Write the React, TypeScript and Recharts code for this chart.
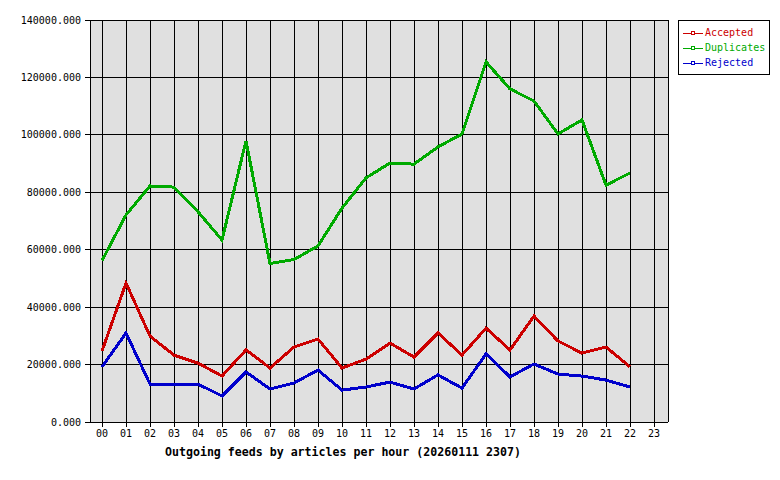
import React from 'react';
import { LineChart, Line, XAxis, YAxis, CartesianGrid } from 'recharts';

const hours = ['00','01','02','03','04','05','06','07','08','09','10','11','12','13','14','15','16','17','18','19','20','21','22','23'];
const accepted = [24700, 48400, 29900, 23300, 20500, 16000, 25100, 18800, 26100, 28900, 18800, 21900, 27500, 22600, 31000, 23300, 32700, 25100, 36900, 28200, 24000, 26100, 19200, null];
const duplicates = [56200, 72100, 82200, 81800, 73200, 63400, 97900, 55200, 56600, 61300, 74500, 85000, 90200, 89800, 95800, 100300, 125400, 116000, 111800, 100300, 105200, 82500, 86700, null];
const rejected = [19200, 31000, 13200, 13200, 13200, 9050, 17400, 11500, 13600, 18100, 11100, 12200, 13900, 11500, 16400, 11800, 23700, 15700, 20200, 16700, 16000, 14600, 12200, null];
const yTicks = [0, 20000, 40000, 60000, 80000, 100000, 120000, 140000];
const title = 'Outgoing feeds by articles per hour (20260111 2307)';

const series = [
  { key: 'accepted', name: 'Accepted', color: '#cc0000' },
  { key: 'duplicates', name: 'Duplicates', color: '#00aa00' },
  { key: 'rejected', name: 'Rejected', color: '#0000cc' },
];

const data = hours.map((h, i) => ({
  hour: h,
  accepted: accepted[i],
  duplicates: duplicates[i],
  rejected: rejected[i],
}));

const font = '"DejaVu Sans Mono", monospace';

export default function App() {
  return (
    <div style={{ position: 'absolute', left: 0, top: 0, width: 780, height: 480, background: '#ffffff', fontFamily: font }}>
      <LineChart
        width={780}
        height={480}
        data={data}
        margin={{ top: 20, right: 112, bottom: 28, left: 0 }}
        style={{ shapeRendering: 'crispEdges' }}
      >
        <CartesianGrid stroke="#000000" fill="#e0e0e0" fillOpacity={1} strokeWidth={1} />
        <XAxis
          dataKey="hour"
          padding={{ left: 12, right: 14 }}
          interval={0}
          height={30}
          tickSize={5}
          tickMargin={3}
          axisLine={{ stroke: '#000' }}
          tickLine={{ stroke: '#000' }}
          tick={{ fill: '#000', fontSize: 10, fontFamily: font }}
        />
        <YAxis
          domain={[0, 140000]}
          ticks={yTicks}
          width={90}
          tickSize={5}
          tickMargin={4}
          interval={0}
          tickFormatter={(v: number) => v.toFixed(3)}
          axisLine={{ stroke: '#000' }}
          tickLine={{ stroke: '#000' }}
          tick={{ fill: '#000', fontSize: 10, fontFamily: font }}
        />
        <YAxis
          yAxisId="r"
          orientation="right"
          domain={[0, 140000]}
          width={0}
          tick={false}
          tickLine={false}
          axisLine={{ stroke: '#000' }}
        />
        {series.map((s) => (
          <Line
            key={s.key}
            type="linear"
            dataKey={s.key}
            name={s.name}
            stroke={s.color}
            strokeWidth={3}
            dot={false}
            activeDot={false}
            isAnimationActive={false}
            connectNulls={false}
          />
        ))}
      </LineChart>
      <div style={{ position: 'absolute', left: 678, top: 20, width: 90, height: 53, border: '1px solid #000', background: '#fff' }}>
        {series.map((s, i) => (
          <div key={s.key} style={{ position: 'absolute', left: 3, top: 6 + i * 15, height: 12, display: 'flex', alignItems: 'center' }}>
            <svg width={22} height={12} style={{ display: 'block', shapeRendering: 'crispEdges' }}>
              <line x1={1} y1={6.5} x2={21} y2={6.5} stroke={s.color} strokeWidth={1} />
              <rect x={9.5} y={4.5} width={3} height={3} fill="#fff" stroke={s.color} strokeWidth={1} />
            </svg>
            <span style={{ color: s.color, fontSize: 10, fontFamily: font, marginLeft: 1, lineHeight: '12px' }}>{s.name}</span>
          </div>
        ))}
      </div>
      <div style={{ position: 'absolute', left: 165, top: 445, fontSize: 11.6, fontWeight: 'bold', fontFamily: font, color: '#000', whiteSpace: 'nowrap' }}>
        {title}
      </div>
    </div>
  );
}
